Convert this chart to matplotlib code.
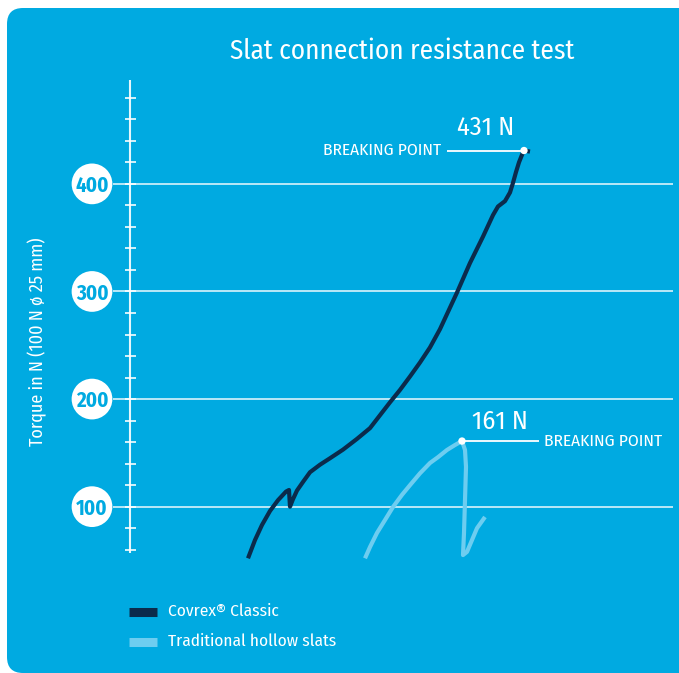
import matplotlib
matplotlib.use("Agg")
import matplotlib.pyplot as plt
from matplotlib.patches import FancyBboxPatch

FONT = ["Fira Sans Condensed", "DejaVu Sans"]
plt.rcParams["font.family"] = FONT

# ---- data ----
title = "Slat connection resistance test"
y_label = "Torque in N (100 N ø 25 mm)"
tick_values = [100, 200, 300, 400]
minor_ticks = list(range(60, 481, 20))

covrex_x = [11.8, 12.5, 13.2, 14.0, 14.8, 15.6, 15.9, 16.0, 16.3, 16.7, 17.3, 18.0,
            19.0, 20.0, 21.3, 22.7, 24.0, 25.0, 26.0, 27.0, 28.0, 29.0, 30.0, 31.0,
            31.8, 32.7, 34.0, 35.3, 36.3, 36.8, 37.5, 38.0, 38.3, 38.6, 38.9, 39.2,
            39.4, 40.0]
covrex_y = [52, 69, 83, 96, 106, 114, 115.5, 100, 107, 115, 123, 132,
            139, 145, 153, 163, 173, 185, 197, 208.5, 221, 234, 248, 265,
            281, 299, 326.5, 351, 371, 379, 384, 392, 401, 411, 420, 427,
            431, 430]

hollow_x = [23.5, 24.0, 24.7, 25.5, 26.3, 27.2, 28.0, 29.0, 30.0, 30.8, 31.7, 32.5,
            33.2, 33.5, 33.6, 33.5, 33.4, 33.3, 33.7, 34.2, 34.7, 35.5]
hollow_y = [52, 62.5, 75.6, 87.6, 99.7, 111, 120, 131, 140.6, 146, 152.7, 157.3,
            161, 152.7, 137, 106, 75.6, 55, 58, 69, 80, 90.4]

covrex_break = 431
hollow_break = 161
series_names = ["Covrex\u00ae Classic", "Traditional hollow slats"]

BLUE = "#00AAE1"
DARK = "#0B2B4C"
LIGHT = "#6DCDF0"

fig = plt.figure(figsize=(6.79, 6.73), dpi=100)
fig.patch.set_facecolor("white")
bg = FancyBboxPatch((7, 0), 690, 665, boxstyle="round,pad=0,rounding_size=16",
                    transform=None, facecolor=BLUE, edgecolor="none", zorder=0)
fig.add_artist(bg)

ax = fig.add_axes([0, 0, 1, 1])
ax.set_facecolor("none")
ax.set_xlim(-13.0, 54.9)
ax.set_ylim(-54.6, 570.9)
ax.axis("off")

# gridlines
ax.hlines(tick_values, -1.7, 54.3, color="white", lw=1.2, alpha=0.85, zorder=1)
# axis line and minor ticks
ax.vlines(0, 57, 497, color="white", lw=1.5, alpha=0.9, zorder=2)
ax.hlines(minor_ticks, -0.5, 0.6, color="white", lw=1.3, alpha=0.9, zorder=2)

# tick circles
ax.scatter([-3.8] * len(tick_values), tick_values, s=860, color="white", zorder=3,
           edgecolors="none")
for v in tick_values:
    ax.text(-3.8, v, str(v), ha="center", va="center_baseline", fontsize=15,
            fontweight="bold", color=BLUE, zorder=4)

# curves
ax.plot(hollow_x, hollow_y, color=LIGHT, lw=3.0, solid_joinstyle="round",
        solid_capstyle="butt", zorder=5)
ax.plot(covrex_x, covrex_y, color=DARK, lw=3.0, solid_joinstyle="round",
        solid_capstyle="butt", zorder=6)

# breaking points
cbx = covrex_x[covrex_y.index(covrex_break)]
hbx = hollow_x[hollow_y.index(hollow_break)]
ax.hlines(covrex_break, 31.7, cbx, color="white", lw=1.3, zorder=7)
ax.scatter([cbx], [covrex_break], s=28, color="white", zorder=8, edgecolors="none")
ax.text(31.1, covrex_break, "BREAKING POINT", ha="right", va="center", fontsize=12.5,
        color="white")
ax.text(35.6, covrex_break + 21, f"{covrex_break} N", ha="center", va="center",
        fontsize=19, color="white")

ax.hlines(hollow_break, hbx, 40.9, color="white", lw=1.3, zorder=7)
ax.scatter([hbx], [hollow_break], s=28, color="white", zorder=8, edgecolors="none")
ax.text(41.4, hollow_break, "BREAKING POINT", ha="left", va="center", fontsize=12.5,
        color="white")
ax.text(37.0, hollow_break + 18, f"{hollow_break} N", ha="center", va="center",
        fontsize=19, color="white")

# title and y label
ax.text(27.2, 523, title, ha="center", va="center", fontsize=19.5, color="white")
ax.text(-9.3, 253, y_label, ha="center", va="center", rotation=90, fontsize=13,
        color="white")

# legend
leg_y = [2.5, -25.5]
for yy, col, name in zip(leg_y, [DARK, LIGHT], series_names):
    ax.hlines(yy, -0.1, 2.7, color=col, lw=6.5, zorder=5)
    ax.text(3.8, yy, name, ha="left", va="center", fontsize=12.5, color="white")

fig.savefig("out.png", dpi=100, facecolor="white")
